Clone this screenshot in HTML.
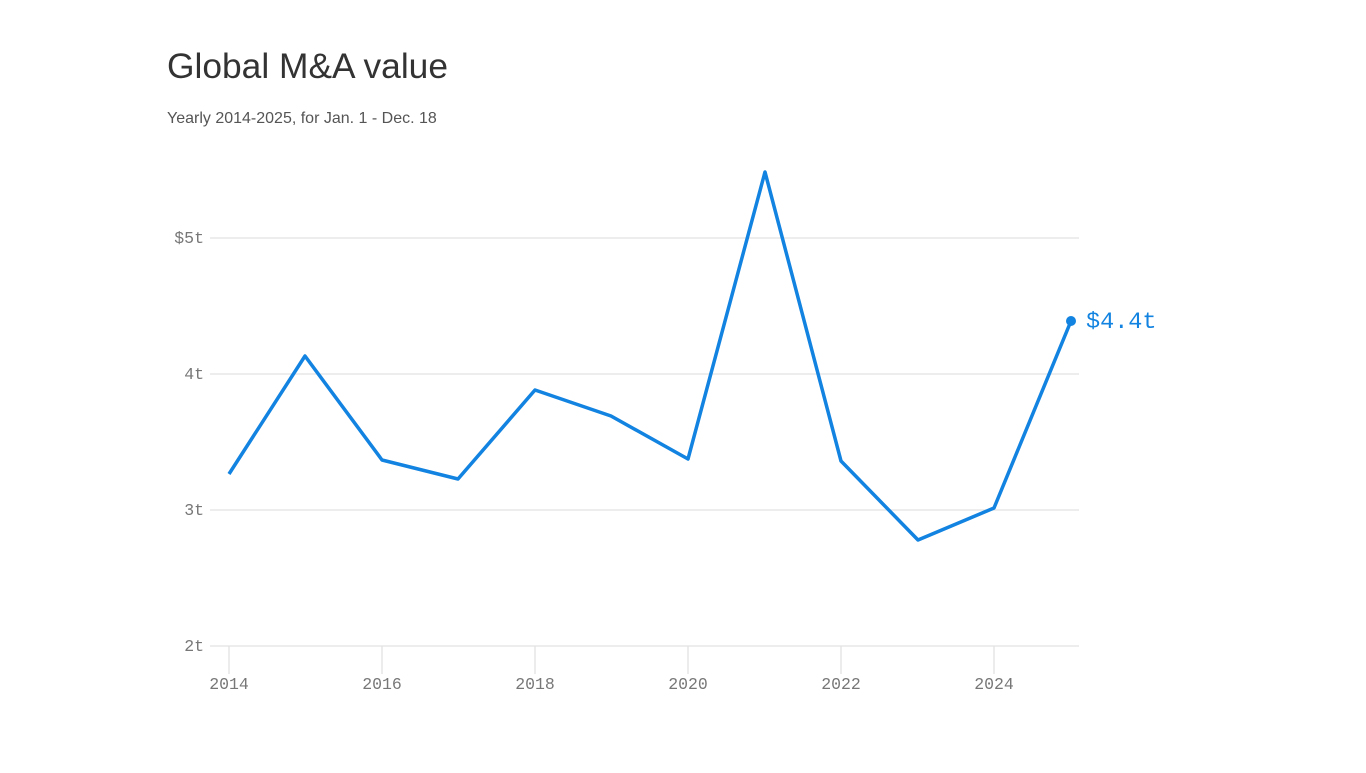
<!DOCTYPE html>
<html><head><style>
body{margin:0;background:#fff;width:1366px;height:768px;overflow:hidden;font-family:"Liberation Sans",sans-serif}
</style></head><body>
<svg width="1366" height="768" xmlns="http://www.w3.org/2000/svg">
<text x="167" y="78" font-family="Liberation Sans, sans-serif" font-size="35" fill="#333" textLength="281" lengthAdjust="spacingAndGlyphs">Global M&amp;A value</text>
<text x="167" y="123" font-family="Liberation Sans, sans-serif" font-size="16" fill="#555">Yearly 2014-2025, for Jan. 1 - Dec. 18</text>
<g stroke="#e2e2e2" stroke-width="1.3">
<line x1="210" y1="238" x2="1079" y2="238"/>
<line x1="210" y1="374" x2="1079" y2="374"/>
<line x1="210" y1="510" x2="1079" y2="510"/>
<line x1="210" y1="646" x2="1079" y2="646"/>
</g>
<g stroke="#e2e2e2" stroke-width="1.3">
<line x1="229" y1="646" x2="229" y2="674"/><line x1="382" y1="646" x2="382" y2="674"/>
<line x1="535" y1="646" x2="535" y2="674"/><line x1="688" y1="646" x2="688" y2="674"/>
<line x1="841" y1="646" x2="841" y2="674"/><line x1="994" y1="646" x2="994" y2="674"/>
</g>
<g font-family="Liberation Mono, monospace" font-size="16.5" fill="#777" text-anchor="end">
<text x="204" y="243">$5t</text><text x="204" y="379">4t</text>
<text x="204" y="515">3t</text><text x="204" y="651">2t</text>
</g>
<g font-family="Liberation Mono, monospace" font-size="16.5" fill="#777" text-anchor="middle">
<text x="229" y="689">2014</text><text x="382" y="689">2016</text><text x="535" y="689">2018</text>
<text x="688" y="689">2020</text><text x="841" y="689">2022</text><text x="994" y="689">2024</text>
</g>
<polyline fill="none" stroke="#1283e0" stroke-width="3.5" stroke-linejoin="round"
points="229,474 305,356 382,460 458,479 535,390 611,416 688,459 765,172 841,461 918,540 994,508 1071,321"/>
<circle cx="1071" cy="321" r="5" fill="#1283e0"/>
<text x="1086" y="328" font-family="Liberation Mono, monospace" font-size="23.5" fill="#1283e0">$4.4t</text>
</svg>
</body></html>
